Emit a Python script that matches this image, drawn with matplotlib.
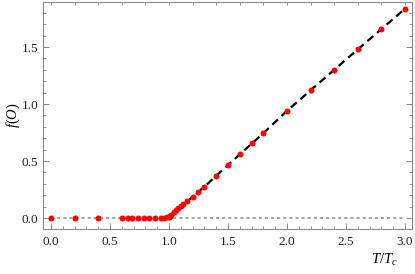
import matplotlib
matplotlib.use('Agg')
import matplotlib.pyplot as plt
from matplotlib.ticker import MultipleLocator

# data
T_pts = [0.0, 0.2, 0.4, 0.6, 0.65, 0.69, 0.74, 0.79, 0.83, 0.88, 0.93, 0.96, 0.98,
         1.0, 1.01, 1.02, 1.04, 1.06, 1.08, 1.1, 1.12, 1.15, 1.2, 1.25, 1.3,
         1.4, 1.5, 1.6, 1.7, 1.8, 2.0, 2.2, 2.4, 2.6, 2.8, 3.0]
f_pts = [0.0, 0.0, 0.0, 0.0, 0.0, 0.0, 0.0, 0.0, 0.0, 0.0, 0.0, 0.002, 0.006,
         0.012, 0.02, 0.03, 0.05, 0.07, 0.09, 0.105, 0.12, 0.148, 0.185, 0.228, 0.275,
         0.368, 0.465, 0.56, 0.66, 0.745, 0.94, 1.12, 1.30, 1.48, 1.66, 1.835]

fit_T = [1.0, 1.05, 1.1, 1.2, 1.3, 1.5, 1.8, 2.0, 2.5, 3.0]
fit_f = [0.0, 0.06, 0.105, 0.185, 0.275, 0.465, 0.745, 0.94, 1.39, 1.835]

zero_T = [0.0, 3.0]
zero_f = [0.0, 0.0]

plt.rcParams['font.family'] = ['Liberation Serif', 'DejaVu Serif']
plt.rcParams['mathtext.fontset'] = 'custom'
plt.rcParams['mathtext.it'] = 'Liberation Serif:italic'
plt.rcParams['mathtext.rm'] = 'Liberation Serif'

fig = plt.figure(figsize=(4.15, 2.74), dpi=100)
ax = fig.add_axes([0.1036, 0.1642, 0.8892, 0.8285])

ax.plot(zero_T, zero_f, color='#8a8a8a', lw=1.1, dashes=(2, 2), zorder=1)
ax.plot(fit_T, fit_f, color='black', lw=1.6, dashes=(3.5, 2.2), zorder=2)
ax.plot(T_pts, f_pts, 'o', color='red', ms=4.3, mec='none', zorder=3)

ax.set_xlim(-0.068, 3.06)
ax.set_ylim(-0.096, 1.895)

ax.xaxis.set_major_locator(MultipleLocator(0.5))
ax.xaxis.set_minor_locator(MultipleLocator(0.1))
ax.yaxis.set_major_locator(MultipleLocator(0.5))
ax.yaxis.set_minor_locator(MultipleLocator(0.1))
ax.xaxis.set_major_formatter(plt.FormatStrFormatter('%.1f'))
ax.yaxis.set_major_formatter(plt.FormatStrFormatter('%.1f'))

ax.tick_params(which='both', direction='in', color='#888888', labelsize=9.5,
               labelcolor='#222222', left=True, right=True, bottom=True, top=False)
ax.tick_params(which='major', length=4, width=0.7)
ax.tick_params(which='minor', length=2, width=0.6)
ax.tick_params(axis='x', pad=5)

# top frame ticks every 0.2
sec = ax.secondary_xaxis('top')
sec.xaxis.set_major_locator(MultipleLocator(0.2))
sec.tick_params(direction='in', length=2.5, width=0.6, color='#888888', labeltop=False)
sec.spines['top'].set_visible(False)

for s in ax.spines.values():
    s.set_color('#888888')
    s.set_linewidth(0.8)

ax.set_ylabel('$f(O)$', fontsize=10.5)
ax.yaxis.set_label_coords(-0.058, 0.5)
ax.set_xlabel('$T/T_c$', fontsize=10.5)
ax.xaxis.set_label_coords(0.925, -0.10)

fig.savefig('out.png', dpi=100)
